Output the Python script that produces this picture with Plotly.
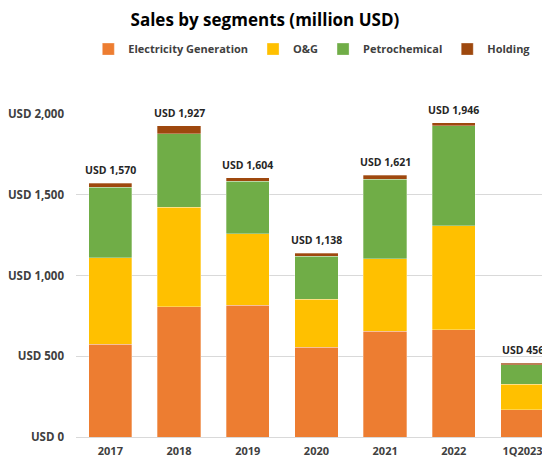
import plotly.graph_objects as go

periods = ['2017', '2018', '2019', '2020', '2021', '2022', '1Q2023']
electricity = [574, 806, 816, 556, 655, 663, 169]
oil_gas = [535, 617, 442, 297, 450, 645, 157]
petrochemical = [438, 455, 325, 265, 492, 618, 120]
holding = [23, 49, 21, 20, 24, 20, 10]
totals = [1570, 1927, 1604, 1138, 1621, 1946, 456]

series = [
    ('Electricity Generation', electricity, '#ED7D31'),
    ('O&G', oil_gas, '#FFC000'),
    ('Petrochemical', petrochemical, '#70AD47'),
    ('Holding', holding, '#9E480E'),
]

fnt = 'Open Sans'

fig = go.Figure()
for name, vals, col in series:
    fig.add_trace(go.Bar(x=periods, y=vals, name=name, marker_color=col,
                         marker_line_color='rgba(255,255,255,0.6)', marker_line_width=0.5))

# total labels above each bar (x given as category index)
for i, t in enumerate(totals):
    fig.add_annotation(x=i, y=t, text='USD {:,}'.format(t), showarrow=False,
                       yanchor='bottom', yshift=4,
                       font=dict(size=10.5, color='#262626', family=fnt, weight='bold'))

# page body has an 8px margin, so the figure is a bit smaller than the window
fig.update_layout(
    barmode='stack', bargap=0.37,
    width=542, height=451,
    paper_bgcolor='white', plot_bgcolor='white',
    title=dict(text='<b>Sales by segments (million USD)</b>', x=0.474, xanchor='center',
               y=0.973, yanchor='middle',
               font=dict(size=17, color='black', family=fnt)),
    legend=dict(orientation='h', x=0.026, xanchor='left', y=1.201, yanchor='middle',
                font=dict(size=11, color='#404040', family=fnt, weight='bold'),
                traceorder='normal'),
    margin=dict(t=106, l=68, r=0, b=22),
    font=dict(family=fnt),
)
fig.update_xaxes(range=[-0.5, 6.40], showgrid=False, showline=True, linecolor='#d9d9d9',
                 automargin=False, ticklabelstandoff=4,
                 tickfont=dict(size=11, color='#404040', weight='bold'), ticks='')
fig.update_yaxes(range=[0, 2000], dtick=500, tickprefix='USD ', tickformat=',',
                 showgrid=True, gridcolor='#d9d9d9', zeroline=False, showline=False,
                 automargin=False, ticklabelstandoff=11,
                 tickfont=dict(size=11.5, color='#404040', weight='bold'))

fig.write_html('out.html')
